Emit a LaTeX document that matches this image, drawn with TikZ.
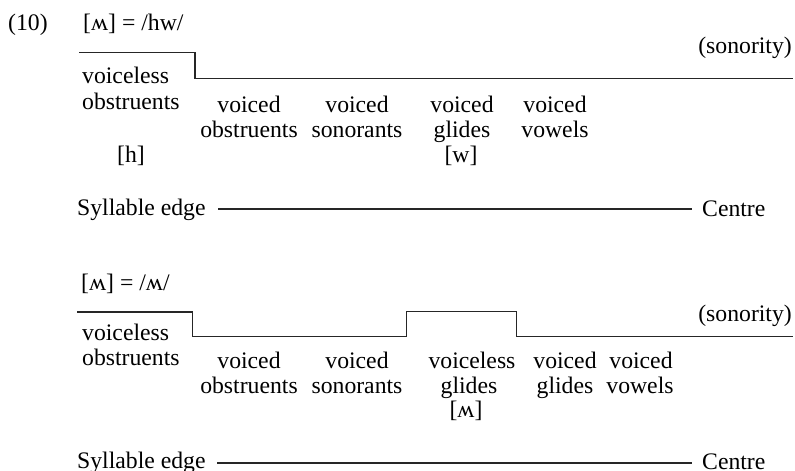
\documentclass[tikz,border=0pt]{standalone}
\usepackage{fontspec}
\setmainfont{Liberation Serif}
\begin{document}
\begin{tikzpicture}[x=1pt,y=-1pt,
  lbl/.style={inner sep=0pt,anchor=base,font=\fontsize{23.7}{25}\selectfont},
  lblw/.style={lbl,anchor=base west},
  lble/.style={lbl,anchor=base east},
  stepline/.style={line width=1.2pt,color=black!85,line join=miter},
  axisline/.style={line width=1.2pt,color=black!85}]
\useasboundingbox (0,0) rectangle (795,471);
% ---------- top diagram ----------
\node[lblw] (num) at (8,30) {(10)};
\node[lblw] (t1) at (83,30) {[ʍ] = /hw/};
\node[lble] (son1) at (792,53) {(sonority)};
\coordinate (a1) at (79,52.5);
\coordinate (a2) at (195,52.5);
\coordinate (a3) at (195,78.7);
\coordinate (a4) at (793,78.7);
\draw[stepline] (a1) -- (a2) -- (a3) -- (a4);
\node[lblw] (vl1) at (82,83) {voiceless};
\node[lblw] (ob1) at (82,109) {obstruents};
\node[lbl] (vo1) at (249,112) {voiced};
\node[lbl] (vob1) at (249,137) {obstruents};
\node[lbl] (vs1) at (357,112) {voiced};
\node[lbl] (so1) at (357,137) {sonorants};
\node[lbl] (vg1) at (462,112) {voiced};
\node[lbl] (gl1) at (462,137) {glides};
\node[lbl] (w1) at (461,162) {[w]};
\node[lbl] (vv1) at (555,112) {voiced};
\node[lbl] (vw1) at (555,137) {vowels};
\node[lbl] (h1) at (131,162) {[h]};
\node[lblw] (se1) at (77,215) {Syllable edge};
\node[lblw] (ce1) at (702,216) {Centre};
\coordinate (l1a) at (218,209);
\coordinate (l1b) at (692,209);
\draw[axisline] (l1a) -- (l1b);
% ---------- bottom diagram ----------
\node[lblw] (t2) at (81,290) {[ʍ] = /ʍ/};
\node[lble] (son2) at (792,321) {(sonority)};
\coordinate (b1) at (77,312);
\coordinate (b2) at (192.3,312);
\coordinate (b3) at (192.3,336.7);
\coordinate (b4) at (406.7,336.7);
\coordinate (b5) at (406.7,311.7);
\coordinate (b6) at (516.7,311.7);
\coordinate (b7) at (516.7,336.7);
\coordinate (b8) at (793,336.7);
\draw[stepline] (b1) -- (b2) -- (b3) -- (b4) -- (b5) -- (b6) -- (b7) -- (b8);
\node[lblw] (vl2) at (82,340) {voiceless};
\node[lblw] (ob2) at (82,365) {obstruents};
\node[lbl] (vo2) at (249,368) {voiced};
\node[lbl] (vob2) at (249,393) {obstruents};
\node[lbl] (vs2) at (357,368) {voiced};
\node[lbl] (so2) at (357,393) {sonorants};
\node[lbl] (vlg2) at (472,368) {voiceless};
\node[lbl] (gl2) at (469,393) {glides};
\node[lbl] (wh2) at (466,417) {[ʍ]};
\node[lbl] (vg2) at (565,368) {voiced};
\node[lbl] (gv2) at (565,393) {glides};
\node[lbl] (vv2) at (641,368) {voiced};
\node[lbl] (vw2) at (640,393) {vowels};
\node[lblw] (se2) at (77,468) {Syllable edge};
\node[lblw] (ce2) at (702,469) {Centre};
\coordinate (l2a) at (217,463);
\coordinate (l2b) at (692,463);
\draw[axisline] (l2a) -- (l2b);
\end{tikzpicture}
\end{document}
